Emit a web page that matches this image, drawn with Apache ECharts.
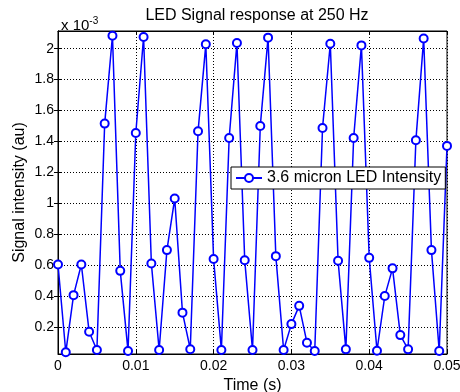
<!DOCTYPE html>
<html>
<head>
<meta charset="utf-8">
<script src="https://cdn.jsdelivr.net/npm/echarts@6/dist/echarts.min.js"></script>
<style>
  html, body { margin: 0; padding: 0; background: #fff; }
  #chart { width: 460px; height: 392px; }
</style>
</head>
<body>
<div id="chart"></div>
<script>
// sample times (s), one sample per millisecond
var times = [0, 0.001, 0.002, 0.003, 0.004, 0.005, 0.006, 0.007, 0.008, 0.009,
    0.010, 0.011, 0.012, 0.013, 0.014, 0.015, 0.016, 0.017, 0.018, 0.019,
    0.020, 0.021, 0.022, 0.023, 0.024, 0.025, 0.026, 0.027, 0.028, 0.029,
    0.030, 0.031, 0.032, 0.033, 0.034, 0.035, 0.036, 0.037, 0.038, 0.039,
    0.040, 0.041, 0.042, 0.043, 0.044, 0.045, 0.046, 0.047, 0.048, 0.049, 0.050];

// signal intensity, in units of 1e-3 au
var intensity = [0.606, 0.039, 0.408, 0.606, 0.172, 0.054, 1.516, 2.083, 0.565, 0.047,
    1.455, 2.075, 0.613, 0.054, 0.699, 1.032, 0.295, 0.059, 1.466, 2.028,
    0.641, 0.054, 1.423, 2.036, 0.634, 0.054, 1.501, 2.071, 0.660, 0.054,
    0.221, 0.339, 0.101, 0.047, 1.488, 2.032, 0.630, 0.058, 1.423, 2.021,
    0.649, 0.049, 0.402, 0.581, 0.150, 0.058, 1.408, 2.065, 0.699, 0.047, 1.372];

var yTicks = [0.2, 0.4, 0.6, 0.8, 1, 1.2, 1.4, 1.6, 1.8, 2];
var seriesName = '3.6 micron LED Intensity';

var font = 'Liberation Sans, Arial, sans-serif';
var blue = '#0000ff';

var points = times.map(function (t, i) { return [t, intensity[i]]; });

var chart = echarts.init(document.getElementById('chart'), null, { renderer: 'canvas' });

var gridLine = { show: true, lineStyle: { color: '#000', type: [1, 2], width: 1 } };

var option = {
    backgroundColor: '#fff',
    animation: false,
    textStyle: { fontFamily: font },
    title: [{
        text: 'LED Signal response at 250 Hz',
        left: 252, top: 3, textAlign: 'center',
        textStyle: { fontFamily: font, fontSize: 16, fontWeight: 'normal', color: '#000' }
    }, {
        text: 'x 10{sup|-3}',
        left: 56, top: 11,
        textStyle: {
            fontFamily: font, fontSize: 15, fontWeight: 'normal', color: '#000',
            rich: { sup: { fontFamily: font, fontSize: 10, color: '#000', verticalAlign: 'top', padding: [0, 0, 10, 0] } }
        }
    }],
    legend: {
        data: [seriesName],
        left: 231, top: 167,
        padding: [3, 4, 3, 4],
        itemWidth: 26, itemHeight: 10,
        backgroundColor: '#fff',
        borderColor: '#000', borderWidth: 1, borderRadius: 0,
        textStyle: { fontFamily: font, fontSize: 16, color: '#000' }
    },
    grid: {
        left: 58, right: 13, top: 31, bottom: 38,
        show: true, borderColor: '#000', borderWidth: 1,
        outerBoundsMode: 'none'
    },
    xAxis: [{
        type: 'value', min: 0, max: 0.05, interval: 0.01,
        name: 'Time (s)', nameLocation: 'middle', nameGap: 21,
        nameTextStyle: { fontFamily: font, fontSize: 16, color: '#000' },
        axisLine: { lineStyle: { color: '#000', width: 1 } },
        axisTick: { inside: true, length: 4, lineStyle: { color: '#000' } },
        axisLabel: { fontFamily: font, fontSize: 14, color: '#000', margin: 5, showMaxLabel: true },
        splitLine: gridLine
    }, {
        type: 'value', min: 0, max: 0.05, interval: 0.01, position: 'top',
        axisLine: { lineStyle: { color: '#000', width: 1 } },
        axisTick: { inside: true, length: 4, lineStyle: { color: '#000' } },
        axisLabel: { show: false },
        splitLine: { show: false }
    }],
    yAxis: [{
        type: 'value', min: 0.028, max: 2.114,
        name: 'Signal intensity (au)', nameLocation: 'middle', nameGap: 30,
        nameMoveOverlap: false,
        nameTextStyle: { fontFamily: font, fontSize: 16, color: '#000' },
        axisLine: { show: true, lineStyle: { color: '#000', width: 1 } },
        axisTick: { show: true, inside: true, length: 4, customValues: yTicks, lineStyle: { color: '#000' } },
        axisLabel: { fontFamily: font, fontSize: 14, color: '#000', margin: 4, customValues: yTicks },
        splitLine: gridLine
    }, {
        type: 'value', min: 0.028, max: 2.114, position: 'right',
        axisLine: { show: true, lineStyle: { color: '#000', width: 1 } },
        axisTick: { show: true, inside: true, length: 4, customValues: yTicks, lineStyle: { color: '#000' } },
        axisLabel: { show: false },
        splitLine: { show: false }
    }],
    series: [{
        name: seriesName,
        type: 'line',
        data: points,
        symbol: 'emptyCircle',
        symbolSize: 8,
        showAllSymbol: true,
        lineStyle: { color: blue, width: 1.5 },
        itemStyle: { color: blue, borderColor: blue, borderWidth: 1.5 },
        z: 3
    }]
};

chart.setOption(option);
</script>
</body>
</html>
